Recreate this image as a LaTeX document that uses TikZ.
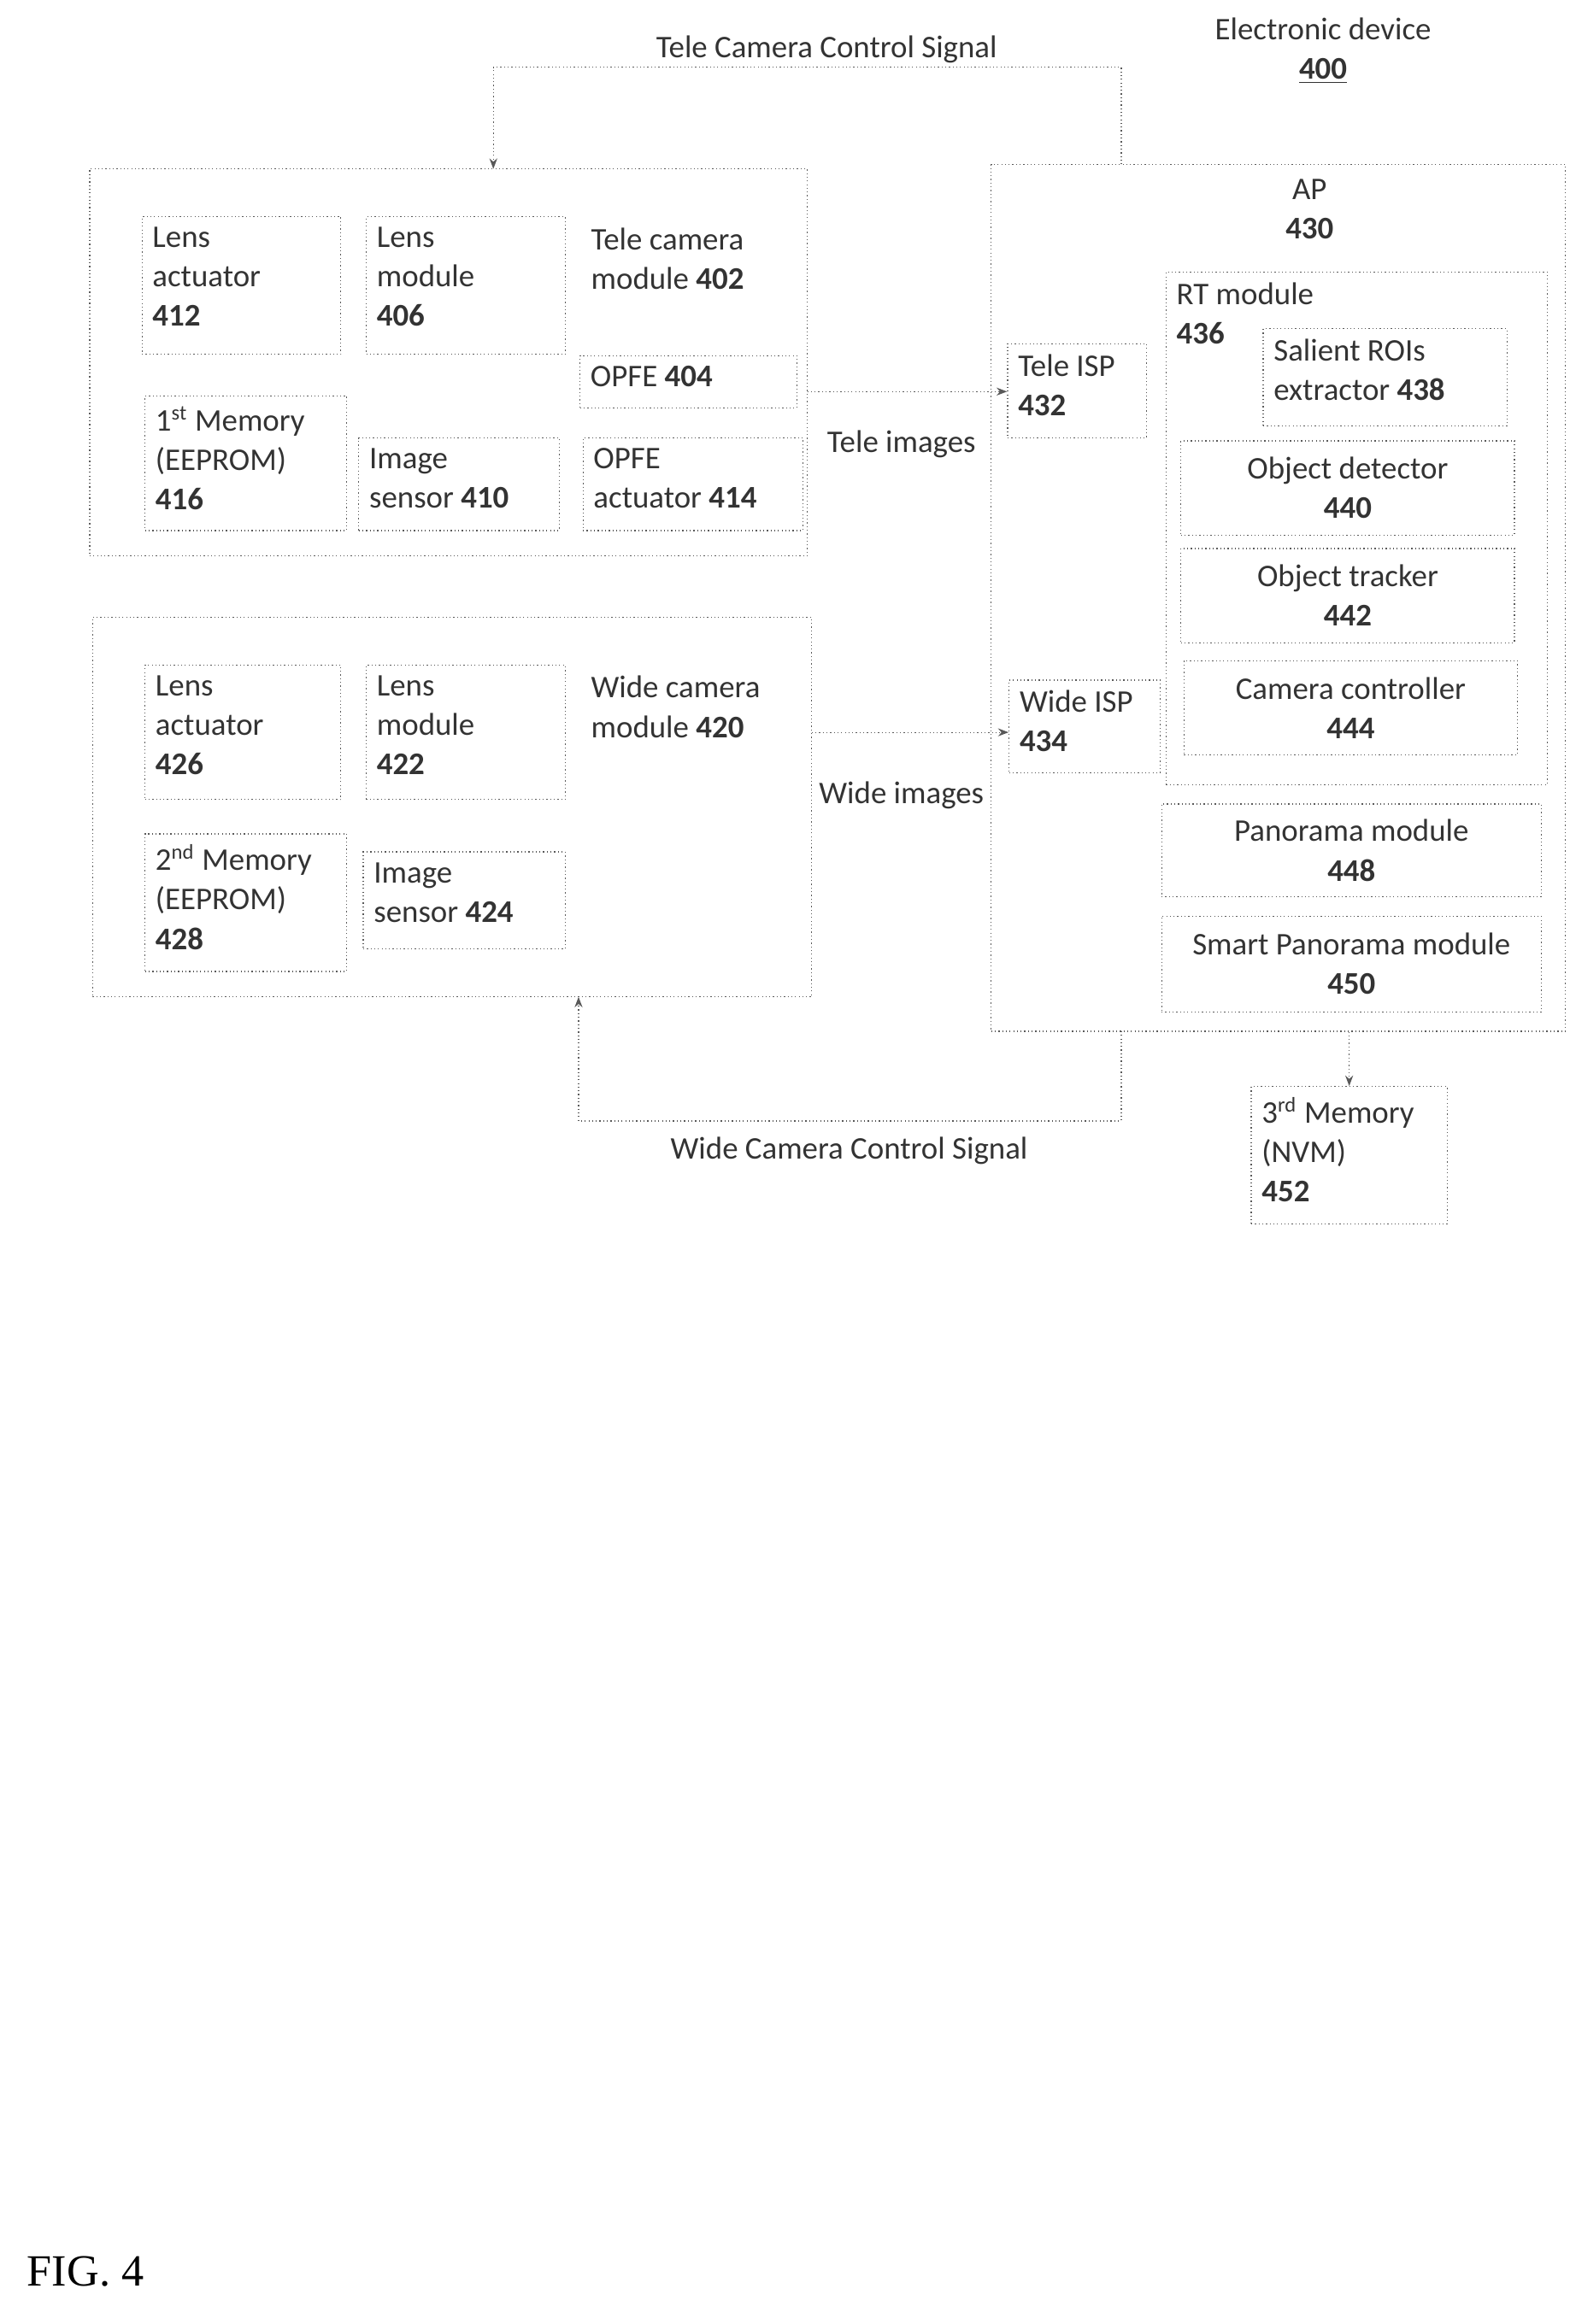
\documentclass[tikz,border=0pt]{standalone}
\usepackage{fontspec}
\setmainfont{Carlito}
\newfontfamily\figfont{Liberation Serif}
\usetikzlibrary{fit,arrows.meta}
\begin{document}
\begin{tikzpicture}[x=0.02cm,y=-0.02cm,
  box/.style={draw,densely dotted,gray!70!black,inner sep=0pt},
  txt/.style={align=left,anchor=north west,inner sep=4pt,font=\fontsize{12}{15}\selectfont,text=black!80},
  ctxt/.style={align=center,font=\fontsize{12}{15}\selectfont,text=black!80},
  sig/.style={densely dotted,gray!70!black,-{Stealth[length=4pt]}}]
\useasboundingbox (0,0) rectangle (1050,1555);
% tele camera
\node[box,fit={(60,113)(540,372)}] (tele) {};
\node[box,fit={(95,145)(228,237)}] (tla) {};
\node[txt] at (tla.north west) {Lens\\actuator\\\textbf{412}};
\node[box,fit={(245,145)(378,237)}] (tlm) {};
\node[txt] at (tlm.north west) {Lens\\module\\\textbf{406}};
\node[txt] (tlabel) at (388,145) {Tele camera\\module \textbf{402}};
\node[box,fit={(388,238)(533,273)}] (opfe) {};
\node[txt] at (opfe.north west) {OPFE \textbf{404}};
\node[box,fit={(97,265)(232,355)}] (mem1) {};
\node[txt] at (mem1.north west) {1\textsuperscript{st} Memory\\(EEPROM)\\\textbf{416}};
\node[box,fit={(240,293)(374,355)}] (tis) {};
\node[txt] at (tis.north west) {Image\\sensor \textbf{410}};
\node[box,fit={(390,293)(537,355)}] (opfea) {};
\node[txt] at (opfea.north west) {OPFE\\actuator \textbf{414}};
% wide camera
\node[box,fit={(62,413)(543,667)}] (wide) {};
\node[box,fit={(97,445)(228,535)}] (wla) {};
\node[txt] at (wla.north west) {Lens\\actuator\\\textbf{426}};
\node[box,fit={(245,445)(378,535)}] (wlm) {};
\node[txt] at (wlm.north west) {Lens\\module\\\textbf{422}};
\node[txt] (wlabel) at (388,445) {Wide camera\\module \textbf{420}};
\node[box,fit={(97,558)(232,650)}] (mem2) {};
\node[txt] at (mem2.north west) {2\textsuperscript{nd} Memory\\(EEPROM)\\\textbf{428}};
\node[box,fit={(243,570)(378,635)}] (wis) {};
\node[txt] at (wis.north west) {Image\\sensor \textbf{424}};
% AP
\node[box,fit={(663,110)(1047,690)}] (ap) {};
\node[ctxt] at (876,140) {AP\\\textbf{430}};
\node[ctxt] at (885,34) {Electronic device\\\underline{\textbf{400}}};
\node[box,fit={(674,230)(767,293)}] (tisp) {};
\node[txt] at (tisp.north west) {Tele ISP\\\textbf{432}};
\node[box,fit={(780,182)(1035,525)}] (rt) {};
\node[txt] at (rt.north west) {RT module\\\textbf{436}};
\node[box,fit={(845,220)(1008,285)}] (sal) {};
\node[txt] at (sal.north west) {Salient ROIs\\extractor \textbf{438}};
\node[box,fit={(790,295)(1013,358)}] (od) {};
\node[ctxt] at (od.center) {Object detector\\\textbf{440}};
\node[box,fit={(790,367)(1013,430)}] (ot) {};
\node[ctxt] at (ot.center) {Object tracker\\\textbf{442}};
\node[box,fit={(792,442)(1015,505)}] (cc) {};
\node[ctxt] at (cc.center) {Camera controller\\\textbf{444}};
\node[box,fit={(675,455)(776,517)}] (wisp) {};
\node[txt] at (wisp.north west) {Wide ISP\\\textbf{434}};
\node[box,fit={(777,538)(1031,600)}] (pano) {};
\node[ctxt] at (pano.center) {Panorama module\\\textbf{448}};
\node[box,fit={(777,613)(1031,677)}] (spano) {};
\node[ctxt] at (spano.center) {Smart Panorama module\\\textbf{450}};
\node[box,fit={(837,727)(968,819)}] (mem3) {};
\node[txt] at (mem3.north west) {3\textsuperscript{rd} Memory\\(NVM)\\\textbf{452}};
% signals
\coordinate (tc) at (750,110);
\coordinate (wc) at (750,690);
\draw[sig] (tc) |- (330,45) -- (330,113);
\node[ctxt] at (553,33) {Tele Camera Control Signal};
\draw[sig] (wc) |- (387,750) -- (387,667);
\node[ctxt] at (568,770) {Wide Camera Control Signal};
\draw[sig] (540,262) -- (tisp.west |- 0,262);
\node[ctxt] at (603,297) {Tele images};
\draw[sig] (543,490) -- (wisp.west |- 0,490);
\node[ctxt] at (603,532) {Wide images};
\draw[sig] (ap.south -| mem3.north) -- (mem3.north);
\node[anchor=west,font=\figfont\fontsize{17}{20}\selectfont] at (12,1520) {FIG. 4};
\end{tikzpicture}
\end{document}
